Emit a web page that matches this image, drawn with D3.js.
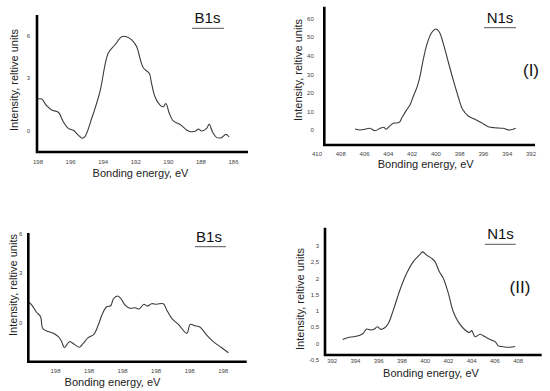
<!DOCTYPE html>
<html>
<head>
<meta charset="utf-8">
<script src="https://cdn.jsdelivr.net/npm/d3@7"></script>
<style>
  body { margin: 0; background: #fff; }
  svg { display: block; }
</style>
</head>
<body>
<div id="chart"></div>
<script>
// B1s, sample (I): binding energy (eV) vs intensity
const b1sIEnergy = [198.0, 197.74, 197.44, 197.13, 196.72, 196.42, 196.11, 195.80, 195.50, 195.25,
  195.09, 194.67, 194.17, 193.66, 193.25, 192.83, 192.53, 192.22, 191.91, 191.71,
  191.51, 191.14, 191.00, 190.79, 190.48, 190.28, 190.12, 189.91, 189.67, 189.26,
  188.85, 188.60, 188.29, 188.13, 187.93, 187.62, 187.46, 187.25, 187.01, 186.70,
  186.44, 186.23];
const b1sIIntensity = [1.81, 1.81, 1.43, 1.19, 1.06, 0.53, 0.15, 0.04, -0.23, -0.41,
  -0.32, 0.72, 2.22, 4.75, 5.34, 5.93, 5.93, 5.70, 5.22, 4.40,
  3.73, 3.33, 2.70, 1.94, 1.47, 1.37, 1.56, 1.00, 0.57, 0.38,
  0.06, -0.04, 0.00, 0.11, 0.00, 0.15, 0.38, -0.07, -0.36, -0.38,
  -0.19, -0.34];

// N1s, sample (I)
const n1sIEnergy = [406.76, 406.34, 405.92, 405.50, 405.08, 404.66, 404.33, 404.16, 403.82, 403.55,
  403.04, 402.84, 402.42, 402.14, 401.87, 401.53, 401.30, 401.03, 400.69, 400.32,
  399.96, 399.68, 399.34, 398.92, 398.50, 398.08, 397.71, 397.24, 396.68, 396.12,
  395.56, 395.00, 394.30, 393.74, 393.24];
const n1sIIntensity = [0.5, 0.0, 0.4, 0.9, -0.4, 0.9, 1.5, 0.4, 2.2, 3.6,
  4.1, 6.3, 10.8, 13.4, 17.9, 23.3, 28.7, 37.6, 46.6, 52.3,
  54.3, 52.8, 46.6, 36.7, 26.9, 17.9, 11.1, 7.5, 5.8, 3.9,
  1.8, 1.2, 0.9, 0.0, 0.9];

// B1s, sample (II): every tick is labelled "198", so points sit on tick index
const b1sIIPos = [0.17, 0.31, 0.45, 0.57, 0.63, 0.75, 0.95, 1.10, 1.20, 1.28,
  1.43, 1.58, 1.73, 1.84, 1.99, 2.16, 2.29, 2.42, 2.54, 2.66,
  2.74, 2.86, 2.96, 3.09, 3.24, 3.39, 3.51, 3.65, 3.75, 3.88,
  4.03, 4.23, 4.33, 4.48, 4.68, 4.93, 5.03, 5.17, 5.32, 5.52,
  5.72, 5.97, 6.17];
const b1sIIIntensity = [1.29, 1.05, 0.62, 0.36, -0.33, -0.49, -0.63, -0.83, -1.13, -1.49,
  -1.13, -1.29, -1.46, -1.23, -0.89, -0.69, -0.14, 0.56, 0.95, 1.01,
  1.41, 1.59, 1.45, 1.05, 0.86, 0.89, 0.82, 1.10, 0.99, 1.13,
  1.10, 1.13, 0.76, 0.26, -0.10, -0.63, -0.10, -0.18, -0.26, -0.73,
  -1.13, -1.49, -1.79];

// N1s, sample (II)
const n1sIIEnergy = [392.94, 393.43, 393.86, 394.43, 394.72, 395.01, 395.35, 395.64, 395.92, 396.21,
  396.50, 396.87, 397.30, 397.87, 398.45, 399.02, 399.54, 399.83, 400.17, 400.60,
  400.89, 401.26, 401.60, 402.03, 402.46, 402.89, 403.47, 403.84, 404.04, 404.33,
  404.76, 405.19, 405.62, 406.05, 406.34, 406.63, 407.06, 407.35, 407.78];
const n1sIIIntensity = [0.12, 0.18, 0.20, 0.25, 0.31, 0.44, 0.41, 0.43, 0.51, 0.43,
  0.46, 0.61, 1.02, 1.64, 2.15, 2.51, 2.71, 2.81, 2.71, 2.61,
  2.51, 2.20, 2.00, 1.54, 0.97, 0.66, 0.41, 0.33, 0.39, 0.20,
  0.28, 0.20, 0.12, 0.05, -0.08, -0.10, -0.12, -0.12, -0.10];

// tick values and labels
const b1sITicksX = [198, 196, 194, 192, 190, 188, 186];
const b1sITicksY = [0, 3, 6];
const n1sITicksX = [410, 408, 406, 404, 402, 400, 398, 396, 394, 392];
const n1sITicksY = [0, 10, 20, 30, 40, 50, 60];
const b1sIITicksX = [1, 2, 3, 4, 5, 6];
const b1sIITickLabels = ["198", "198", "198", "198", "198", "198"];
const b1sIITicksY = [0, 3, 6];
const n1sIITicksX = [392, 394, 396, 398, 400, 402, 404, 406, 408];
const n1sIITicksY = [-0.5, 0, 0.5, 1, 1.5, 2, 2.5, 3];

const font = "'Liberation Sans', Arial, sans-serif";
const yTitle = "Intensity, reltive units";
const xTitle = "Bonding energy, eV";

const svg = d3.select("#chart").append("svg")
    .attr("width", 550)
    .attr("height", 391)
    .style("font-family", font);

const comma = v => String(v).replace(".", ",");

const panels = [
  {
    xs: b1sIEnergy, ys: b1sIIntensity,
    x: d3.scaleLinear().domain([198, 186]).range([37.5, 233]),
    y: d3.scaleLinear().domain([0, 3, 6]).range([131, 78, 35.7]),
    xTicks: b1sITicksX, xFormat: d => d, yTicks: b1sITicksY, yFormat: d => d,
    frame: { left: 37, top: 15, right: 248, bottom: 152 },
    xPad: 8, yPad: 7,
    title: "B1s", titlePos: [207.5, 23.3], rule: [192, 224, 28.3],
    yLabel: [14, 80], xLabel: [140.5, 173]
  },
  {
    xs: n1sIEnergy, ys: n1sIIntensity,
    x: d3.scaleLinear().domain([410, 392]).range([316.5, 530.5]),
    y: d3.scaleLinear().domain([0, 60]).range([130, 18.4]),
    xTicks: n1sITicksX, xFormat: d => d, yTicks: n1sITicksY, yFormat: d => d,
    frame: { left: 324.3, top: 6.7, right: 535, bottom: 145 },
    xPad: 7, yPad: 10.5,
    title: "N1s", titlePos: [500, 22.7], rule: [484, 516, 27.7],
    tag: "(I)", tagPos: [531, 70],
    yLabel: [298.5, 70], xLabel: [425.7, 164]
  },
  {
    xs: b1sIIPos, ys: b1sIIIntensity,
    x: d3.scaleLinear().domain([1, 6]).range([55, 222.7]),
    y: d3.scaleLinear().domain([0, 3, 6]).range([322.7, 272.3, 234]),
    xTicks: b1sIITicksX, xFormat: (d, i) => b1sIITickLabels[i], yTicks: b1sIITicksY, yFormat: d => d,
    frame: { left: 28.3, top: 233, right: 246.7, bottom: 361.7 },
    xPad: 7, yPad: 6,
    title: "B1s", titlePos: [209, 241.7], rule: [195, 226, 246.7],
    yLabel: [12.7, 285], xLabel: [112.5, 382]
  },
  {
    xs: n1sIIEnergy, ys: n1sIIIntensity,
    x: d3.scaleLinear().domain([392, 408]).range([331.7, 517.7]),
    y: d3.scaleLinear().domain([0, 3]).range([343.3, 245.7]),
    xTicks: n1sIITicksX, xFormat: d => d, yTicks: n1sIITicksY, yFormat: comma,
    frame: { left: 325, top: 227.7, right: 541.7, bottom: 355 },
    xPad: 4, yPad: 6,
    title: "N1s", titlePos: [500.5, 239], rule: [485, 515.7, 244.3],
    tag: "(II)", tagPos: [520, 286.7],
    yLabel: [300, 299], xLabel: [431, 373.5]
  }
];

panels.forEach(p => {
  const g = svg.append("g");
  const pts = p.xs.map((v, i) => [v, p.ys[i]]);

  // spectrum line
  const line = d3.line()
      .x(d => p.x(d[0]))
      .y(d => p.y(d[1]))
      .curve(d3.curveCatmullRom.alpha(0.5));

  g.append("path")
      .datum(pts)
      .attr("d", line)
      .attr("fill", "none")
      .attr("stroke", "#3a3a3a")
      .attr("stroke-width", 1.1);

  // tick labels only, axis lines drawn below
  g.append("g")
      .attr("transform", `translate(0,${p.frame.bottom})`)
      .call(d3.axisBottom(p.x).tickValues(p.xTicks).tickSize(0).tickPadding(p.xPad).tickFormat(p.xFormat))
      .call(a => a.select(".domain").remove())
      .attr("font-family", font)
      .attr("font-size", 6)
      .selectAll("text").attr("fill", "#444");

  g.append("g")
      .attr("transform", `translate(${p.frame.left},0)`)
      .call(d3.axisLeft(p.y).tickValues(p.yTicks).tickSize(0).tickPadding(p.yPad).tickFormat(p.yFormat))
      .call(a => a.select(".domain").remove())
      .attr("font-family", font)
      .attr("font-size", 6)
      .selectAll("text").attr("fill", "#444");

  // heavy L-shaped frame
  const f = p.frame;
  g.append("path")
      .attr("d", `M${f.left},${f.top}V${f.bottom}H${f.right}`)
      .attr("fill", "none")
      .attr("stroke", "#000")
      .attr("stroke-width", 2.6);

  // axis titles
  g.append("text")
      .attr("transform", `translate(${p.yLabel[0]},${p.yLabel[1]}) rotate(-90)`)
      .attr("text-anchor", "middle")
      .attr("dy", "0.35em")
      .style("font-size", "11px")
      .attr("fill", "#222")
      .text(yTitle);

  g.append("text")
      .attr("x", p.xLabel[0])
      .attr("y", p.xLabel[1])
      .attr("text-anchor", "middle")
      .attr("dy", "0.35em")
      .style("font-size", "11px")
      .attr("fill", "#222")
      .text(xTitle);

  // panel title with rule underneath
  g.append("text")
      .attr("x", p.titlePos[0])
      .attr("y", p.titlePos[1])
      .attr("text-anchor", "middle")
      .style("font-size", "15px")
      .attr("fill", "#111")
      .text(p.title);

  g.append("line")
      .attr("x1", p.rule[0]).attr("x2", p.rule[1])
      .attr("y1", p.rule[2]).attr("y2", p.rule[2])
      .attr("stroke", "#555")
      .attr("stroke-width", 1);

  if (p.tag) {
    g.append("text")
        .attr("x", p.tagPos[0])
        .attr("y", p.tagPos[1])
        .attr("text-anchor", "middle")
        .attr("dy", "0.35em")
        .style("font-size", "17px")
        .attr("fill", "#111")
        .text(p.tag);
  }
});
</script>
</body>
</html>
